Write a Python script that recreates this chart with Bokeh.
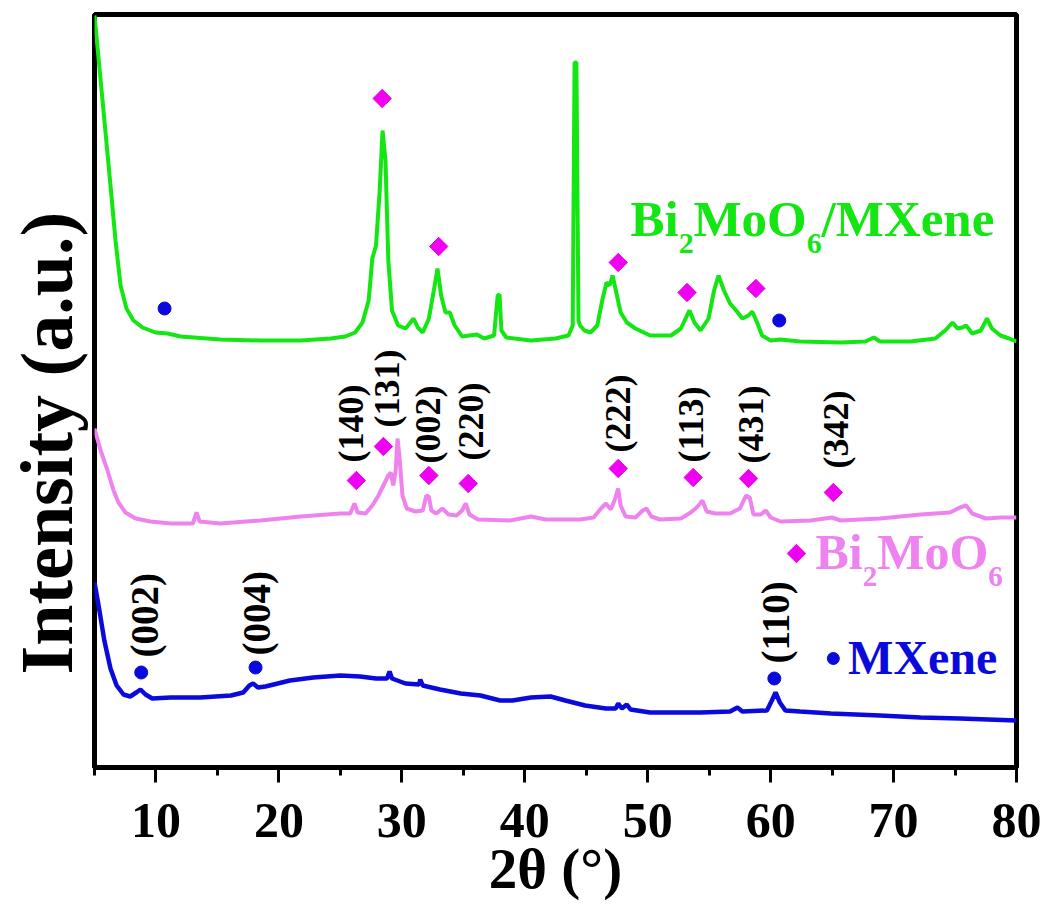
import math
from bokeh.plotting import figure
from bokeh.models import Range1d, FixedTicker, Title
from bokeh.core.properties import value
from bokeh.embed import file_html
from bokeh.resources import INLINE

FONT = "Liberation Serif"

# ---------------- data (2theta in degrees, intensity in a.u., stacked) ----------------
tt_composite = [5.0, 5.73, 6.30, 6.71, 7.12, 7.60, 8.17, 8.90, 9.96, 10.94, 12.0, 15.25, 18.5, 21.76,
                24.2, 25.4, 26.2, 26.8, 27.3, 27.6, 27.9, 28.2, 28.43, 28.67, 28.9, 29.2, 29.7, 30.3,
                30.7, 30.95, 31.3, 31.7, 32.2, 32.6, 32.9, 33.2, 33.55, 33.9, 34.3, 34.9, 36.1, 36.7,
                37.5, 37.8, 37.95, 38.1, 38.5, 40.5, 42.5, 43.56, 43.9, 44.05, 44.2, 44.37, 44.5,
                44.86, 45.35, 45.9, 46.3, 46.65, 46.9, 47.14, 47.5, 47.8, 48.3, 49.0, 50.2, 51.9,
                52.7, 53.2, 53.4, 53.8, 54.3, 54.95, 55.4, 55.76, 56.2, 56.7, 57.2, 57.7, 58.2, 58.5,
                58.9, 59.3, 60.0, 60.8, 62.4, 65.7, 67.7, 68.4, 68.9, 71.4, 73.4, 74.2, 74.8, 75.2,
                75.6, 75.9, 76.4, 77.1, 77.6, 78.0, 78.7, 79.4, 80.0]
int_composite = [752, 657, 582, 527, 482, 459, 447, 440, 435, 434, 431, 428, 427, 427,
                 429, 431, 435, 445, 467, 509, 522, 577, 637, 607, 507, 457, 442, 439,
                 445, 449, 440, 435, 449, 477, 499, 472, 455, 455, 442, 431, 433, 429,
                 432, 472, 473, 437, 430, 427, 429, 432, 442, 705, 705, 447, 442,
                 437, 435, 442, 467, 485, 482, 492, 472, 455, 445, 439, 432, 432,
                 439, 452, 457, 445, 437, 449, 477, 492, 477, 464, 457, 449, 452, 456,
                 445, 432, 427, 428, 426, 425, 426, 430, 426, 426, 429, 437, 445, 439,
                 440, 442, 434, 437, 449, 439, 432, 429, 426]

tt_bmo = [5.0, 5.5, 6.06, 6.55, 6.95, 7.52, 8.34, 9.56, 11.2, 13.0, 13.3, 13.55, 15.25, 18.5,
          21.8, 25.0, 25.8, 26.15, 26.4, 27.05, 27.6, 28.1, 28.5, 28.9, 29.1, 29.3, 29.5, 29.65,
          29.8, 30.05, 30.4, 31.1, 31.7, 32.0, 32.2, 32.4, 32.8, 33.3, 33.8, 34.45, 34.9, 35.2,
          35.5, 36.2, 38.8, 40.5, 41.7, 44.5, 45.6, 46.2, 46.6, 47.0, 47.3, 47.6, 47.8, 48.2,
          49.0, 49.6, 49.9, 50.3, 51.0, 52.7, 53.5, 53.9, 54.2, 54.45, 54.8, 55.5, 56.7, 57.5,
          58.0, 58.3, 58.6, 59.2, 59.6, 60.0, 60.8, 63.25, 65.0, 65.7, 68.9, 72.2, 74.6, 75.4,
          75.9, 76.4, 77.5, 78.7, 80.0]
int_bmo = [339, 317, 297, 277, 265, 255, 249, 246, 244, 244, 255, 246, 244, 247,
           251, 254, 254, 264, 255, 254, 262, 272, 282, 292, 295, 282, 297, 329,
           312, 272, 259, 256, 257, 272, 271, 257, 254, 259, 253, 252, 257, 264,
           253, 248, 247, 251, 248, 248, 250, 259, 264, 258, 267, 279, 262, 251,
           250, 257, 259, 251, 248, 249, 255, 259, 263, 267, 256, 254, 254, 259,
           272, 270, 253, 253, 257, 250, 246, 247, 250, 247, 249, 253, 255, 260,
           262, 254, 249, 250, 250]

tt_mxene = [5.0, 5.4, 5.8, 6.3, 6.8, 7.36, 7.9, 8.4, 8.74, 9.15, 9.7, 11.2, 13.6, 16.1, 17.1,
            17.6, 17.9, 18.3, 18.9, 20.9, 22.8, 25.0, 26.6, 27.9, 28.8, 29.0, 29.2, 30.3, 31.4,
            31.5, 31.7, 33.1, 34.8, 36.4, 38.0, 39.0, 40.5, 42.1, 43.3, 44.9, 46.6, 47.4, 47.6,
            47.9, 48.3, 48.6, 50.2, 54.3, 56.7, 57.3, 57.7, 59.7, 60.1, 60.4, 60.75, 61.2, 62.4,
            64.9, 68.9, 72.2, 75.4, 80.0]
int_mxene = [185, 157, 127, 99, 82, 73, 71, 75, 78, 73, 69, 70, 70, 72, 75,
             82, 84, 80, 81, 87, 90, 92, 91, 89, 89, 96, 89, 84, 83,
             88, 82, 78, 74, 72, 67, 67, 70, 71, 67, 62, 59, 59, 64,
             59, 63, 58, 55, 55, 56, 60, 56, 57, 67, 75, 65, 57, 56,
             54, 52, 50, 49, 47]

# phase markers
mx_marker_tt = [8.8, 18.1, 60.3, 10.7, 60.7]
mx_marker_int = [95, 100, 89, 459, 447]
bmo_marker_tt = [28.4, 33.0, 47.6, 53.2, 58.8, 26.3, 28.5, 32.2, 35.4, 47.6, 53.7, 58.2, 65.1]
bmo_marker_int = [669, 521, 505, 475, 479, 287, 321, 292, 284, 299, 290, 289, 275]

# Miller indices
bmo_hkl = ["(140)", "(131)", "(002)", "(220)", "(222)", "(113)", "(431)", "(342)"]
bmo_hkl_tt = [25.9, 28.8, 32.1, 35.6, 47.6, 53.5, 58.4, 65.3]
bmo_hkl_int = [305, 340, 304, 307, 315, 305, 304, 299]
mx_hkl = ["(002)", "(004)", "(110)"]
mx_hkl_tt = [9.1, 18.2, 60.4]
mx_hkl_int = [110, 112, 104]

# series names
names = ["Bi2MoO6/MXene", "Bi2MoO6", "MXene"]
name_tt = [48.6, 63.65, 66.3]
name_int = [530, 197, 92]
legend_sym_tt = [62.1, 65.1]
legend_sym_int = [214, 109]

x_ticks = [10, 20, 30, 40, 50, 60, 70, 80]
x_minor = [5, 15, 25, 35, 45, 55, 65, 75]

GREEN = "#14E614"
PINK = "#EE82EE"
MAGENTA = "#F000F0"
BLUE = "#0A0ADC"

p = figure(width=1044, height=905, output_backend="svg", toolbar_location=None,
           x_range=Range1d(5, 80), y_range=Range1d(0, 753),
           min_border_left=94, min_border_right=28, min_border_top=14, min_border_bottom=138)
p.background_fill_color = "white"
p.border_fill_color = "white"
p.outline_line_color = "black"
p.outline_line_width = 5
p.xgrid.visible = False
p.ygrid.visible = False
p.yaxis.visible = False

ax = p.xaxis[0]
ax.ticker = FixedTicker(ticks=x_ticks, minor_ticks=x_minor)
ax.axis_line_width = 5
ax.major_tick_in = 0
ax.major_tick_out = 15
ax.minor_tick_in = 0
ax.minor_tick_out = 8
ax.major_tick_line_width = 3
ax.minor_tick_line_width = 3
ax.major_label_standoff = 21
ax.major_label_text_font = FONT
ax.major_label_text_font_style = "bold"
ax.major_label_text_font_size = "50px"
ax.major_label_text_color = "black"
ax.axis_label = "2θ (°)"
ax.axis_label_standoff = -3
ax.axis_label_text_font = FONT
ax.axis_label_text_font_style = "bold"
ax.axis_label_text_font_size = "57px"
ax.axis_label_text_color = "black"

# y-axis title
p.add_layout(Title(text="Intensity (a.u.)", align="left", offset=93, vertical_align="top",
                   standoff=10, text_font=FONT, text_font_style="bold",
                   text_font_size="74px", text_color="black"), "left")

# curves
p.line(tt_composite, int_composite, line_color=GREEN, line_width=4)
p.line(tt_bmo, int_bmo, line_color=PINK, line_width=4)
p.line(tt_mxene, int_mxene, line_color=BLUE, line_width=4.5)

# markers
p.scatter(bmo_marker_tt, bmo_marker_int, marker="square", angle=math.pi / 4, size=13,
          fill_color=MAGENTA, line_color=MAGENTA)
p.scatter(mx_marker_tt, mx_marker_int, marker="circle", size=13, fill_color=BLUE, line_color=BLUE)
p.scatter([legend_sym_tt[0]], [legend_sym_int[0]], marker="square", angle=math.pi / 4, size=13,
          fill_color=MAGENTA, line_color=MAGENTA)
p.scatter([legend_sym_tt[1]], [legend_sym_int[1]], marker="circle", size=12, fill_color=BLUE, line_color=BLUE)

# Miller index labels (rotated)
p.text(bmo_hkl_tt, bmo_hkl_int, text=bmo_hkl, angle=math.pi / 2, text_align="left",
       text_baseline="middle", text_font=value(FONT), text_font_style="bold",
       text_font_size="36px", text_color="black")
p.text(mx_hkl_tt, mx_hkl_int, text=mx_hkl, angle=math.pi / 2, text_align="left",
       text_baseline="middle", text_font=value(FONT), text_font_style="bold",
       text_font_size="39px", text_color="black")

WIDTHS = {"B": 0.667, "i": 0.278, "M": 0.944, "o": 0.5, "O": 0.778, "/": 0.278, "X": 0.722,
          "e": 0.444, "n": 0.556, "2": 0.5, "6": 0.5}
BASELINE_FIX = 0.37  # em: compensates the renderer's alphabetic-baseline placement


def rich_label(x, y, parts, size, color):
    off = 0.0
    for txt, sub in parts:
        fs = size * 0.58 if sub else size
        dy = (size * 0.34 if sub else 0) - BASELINE_FIX * fs
        p.text([x], [y], text=[txt], x_offset=off, y_offset=dy, text_font=value(FONT),
               text_font_style="bold", text_font_size=f"{fs:.0f}px", text_color=color,
               text_align="left", text_baseline="alphabetic")
        off += sum(WIDTHS[c] for c in txt) * fs


rich_label(name_tt[0], name_int[0], [("Bi", 0), ("2", 1), ("MoO", 0), ("6", 1), ("/MXene", 0)], 51, GREEN)
rich_label(name_tt[1], name_int[1], [("Bi", 0), ("2", 1), ("MoO", 0), ("6", 1)], 50, PINK)
rich_label(name_tt[2], name_int[2], [("MXene", 0)], 48, BLUE)

open("out.html", "w").write(file_html(p, INLINE))
